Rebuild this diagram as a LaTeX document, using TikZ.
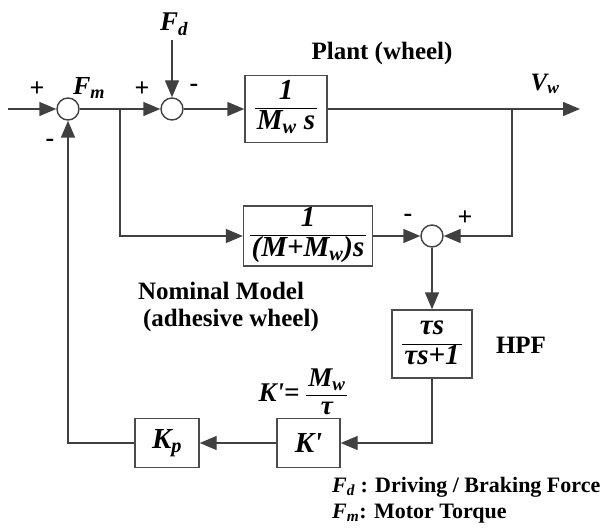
\documentclass[tikz,border=0pt]{standalone}
\usepackage{fontspec}
\setmainfont{Liberation Serif}
\usetikzlibrary{arrows.meta}
\newcommand\bi[1]{{\bfseries\itshape #1}}
\newcommand\frc[2]{\setlength{\arrayrulewidth}{1pt}\renewcommand{\arraystretch}{0.95}\begin{tabular}{@{\hspace{2pt}}c@{\hspace{2pt}}}#1\\\hline #2\end{tabular}}
\newcommand\pr{\textquotesingle}
\begin{document}
\begin{tikzpicture}[x=1pt,y=-1pt,
  line/.style={draw=black!75, line width=1.4pt},
  arr/.style={line, -{Triangle[length=17pt,width=14pt]}},
  sumnode/.style={circle, draw=black!75, line width=1.4pt, minimum size=22pt, inner sep=0pt, fill=white},
  blk/.style={draw=black!70, line width=1.4pt, inner sep=0pt},
  lbl/.style={font=\fontsize{25}{28}\selectfont\bfseries},
  sgn/.style={font=\fontsize{26}{26}\selectfont\bfseries},
  mth/.style={font=\fontsize{29}{30}\selectfont\bfseries\itshape},
  leg/.style={font=\fontsize{22}{24}\selectfont\bfseries, anchor=west, inner sep=0pt}]
\useasboundingbox (0,0) rectangle (601,529);
% summing junctions
\node[sumnode] (s1) at (68,109) {};
\node[sumnode] (s2) at (172,109) {};
\node[sumnode] (s3) at (432,236) {};
% blocks
\node[blk, mth, minimum width=82pt, minimum height=67pt] (plant) at (286,109) {\frc{1}{M\textsubscript{w} s}};
\node[blk, mth, minimum width=129pt, minimum height=60pt] (nom) at (308,236) {\frc{1}{(M+M\textsubscript{w})s}};
\node[blk, mth, minimum width=80pt, minimum height=68pt] (hpf) at (432,344) {\frc{τs}{τs+1}};
\node[blk, mth, minimum width=63pt, minimum height=49pt] (kpr) at (308.5,443) {K\pr};
\node[blk, mth, minimum width=64pt, minimum height=49pt] (kp) at (167,443) {K\textsubscript{p}};
% coordinates
\coordinate (in) at (8,109);
\coordinate (br1) at (120,109);
\coordinate (br2) at (512,109);
\coordinate (out) at (580,109);
\coordinate (fdtop) at (172,40);
% connectors
\draw[arr] (in) -- (s1);
\draw[line] (s1) -- (br1);
\draw[arr] (br1) -- (s2);
\draw[arr] (fdtop) -- (s2);
\draw[arr] (s2) -- (plant);
\draw[arr] (plant) -- (out);
\draw[arr] (br1) |- (nom);
\draw[arr] (nom) -- (s3);
\draw[arr] (br2) |- (s3);
\draw[arr] (s3) -- (hpf);
\draw[arr] (hpf) |- (kpr);
\draw[arr] (kpr) -- (kp);
\draw[arr] (kp) -| (s1);
% labels
\node[mth, font=\fontsize{27}{28}\selectfont\bfseries\itshape] (fd) at (174,24) {F\textsubscript{d}};
\node[mth, font=\fontsize{26}{28}\selectfont\bfseries\itshape] (fm) at (89,88) {F\textsubscript{m}};
\node[sgn] (p1) at (37,89) {+};
\node[sgn] (m1) at (50,143) {-};
\node[sgn] (p2) at (142,89) {+};
\node[sgn] (m2) at (194,88) {-};
\node[sgn] (m3) at (408,218) {-};
\node[sgn] (p3) at (465,218) {+};
\node[lbl] (plantlbl) at (382,53) {Plant (wheel)};
\node[mth, font=\fontsize{25}{28}\selectfont\bfseries\itshape] (vw) at (545,84) {V\textsubscript{w}};
\node[lbl] (nomlbl1) at (221,291) {Nominal Model};
\node[lbl] (nomlbl2) at (231,320) {(adhesive wheel)};
\node[lbl] (hpflbl) at (521,345) {HPF};
\node[mth, font=\fontsize{27}{28}\selectfont\bfseries\itshape] (kform) at (303,395) {K\pr= \frc{M\textsubscript{w}}{τ}};
\node[leg] (leg1) at (332,487) {\bi{F\textsubscript{d}} : Driving / Braking Force};
\node[leg] (leg2) at (332,514) {\bi{F\textsubscript{m}}: Motor Torque};
\end{tikzpicture}
\end{document}
